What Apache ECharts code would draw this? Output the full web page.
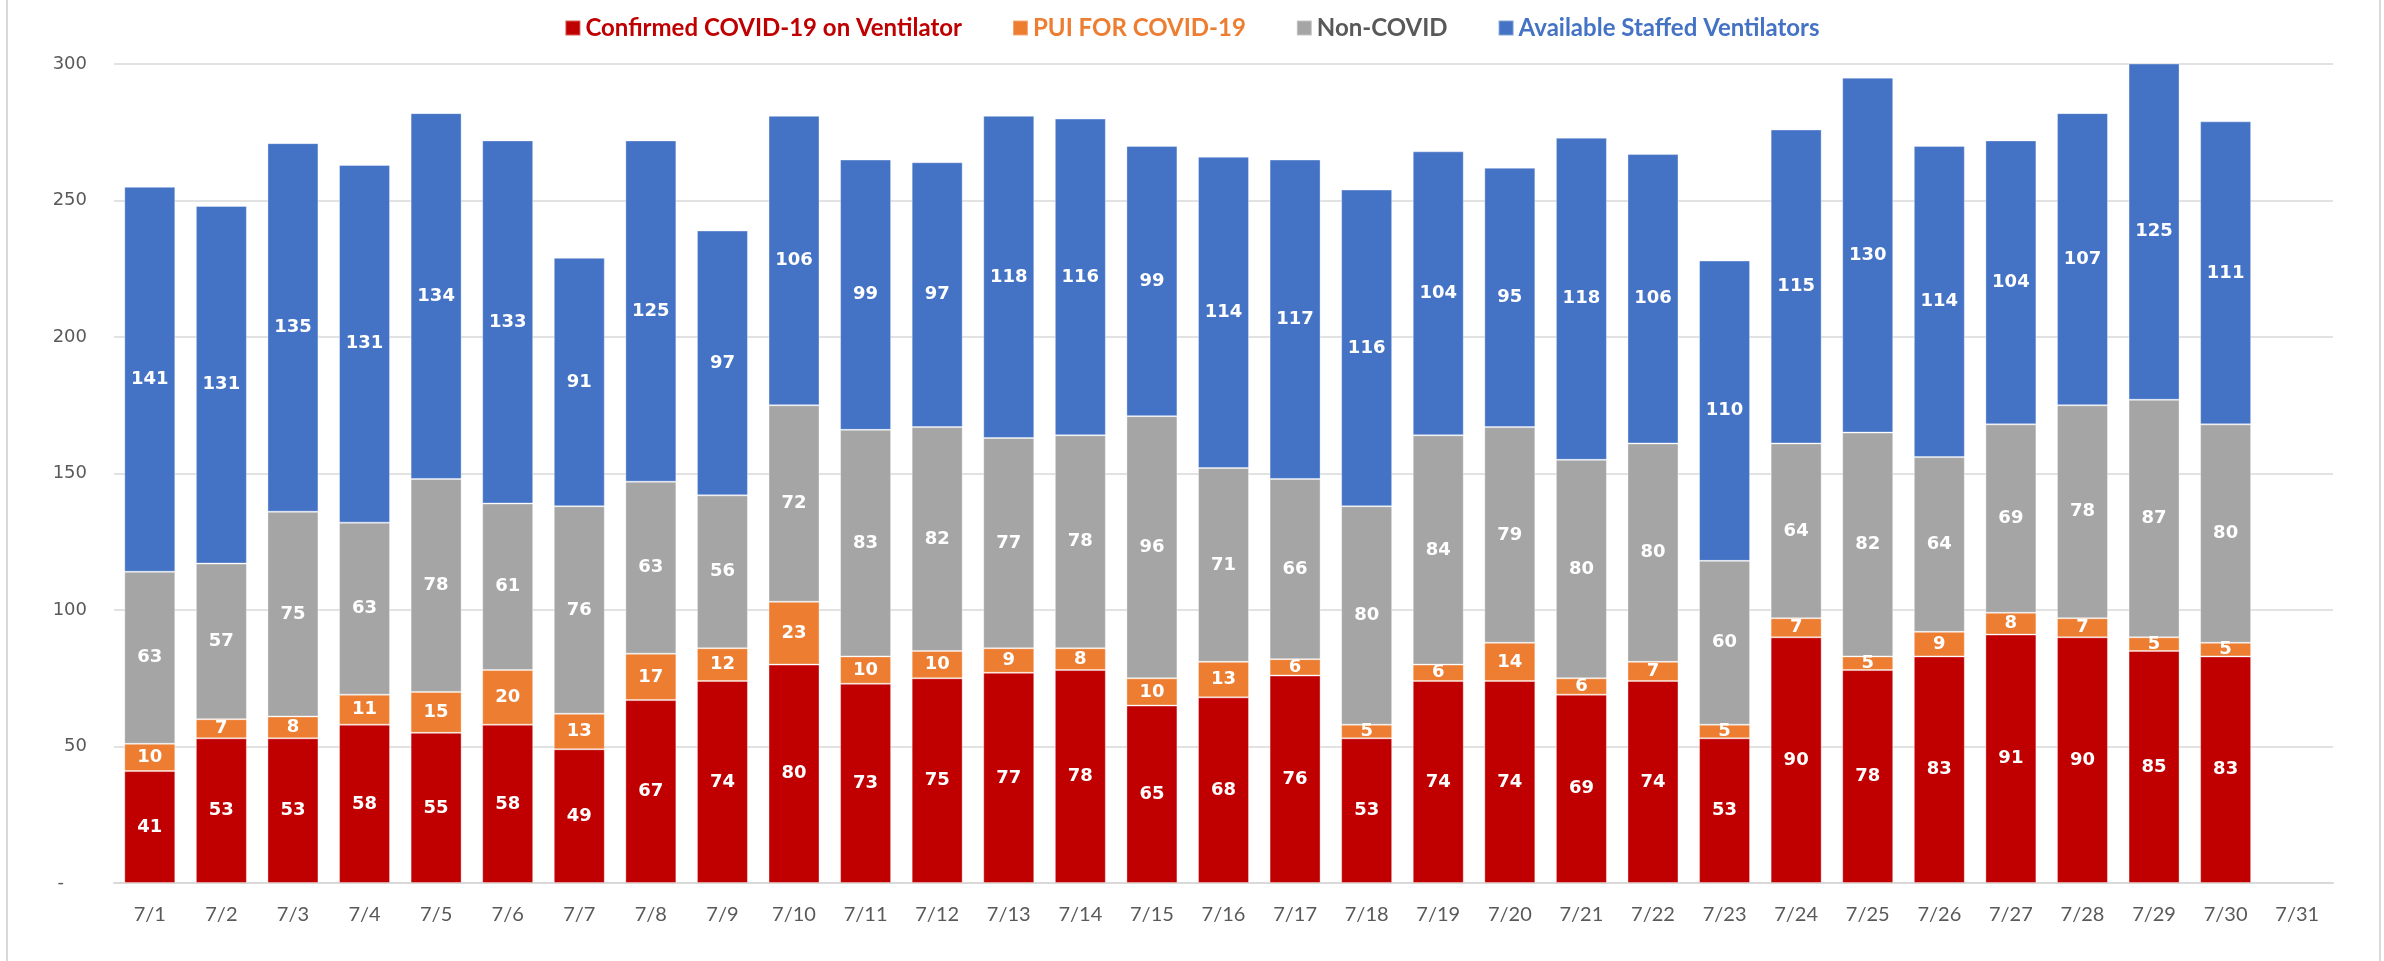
<!DOCTYPE html>
<html>
<head>
<meta charset="utf-8">
<script src="https://cdn.jsdelivr.net/npm/echarts@6/dist/echarts.min.js"></script>
<style>
html,body{margin:0;padding:0;background:#fff;}
#chart{width:2384px;height:961px;}
</style>
</head>
<body>
<div id="chart"></div>
<script>
const categories = ['7/1','7/2','7/3','7/4','7/5','7/6','7/7','7/8','7/9','7/10','7/11','7/12','7/13','7/14','7/15','7/16','7/17','7/18','7/19','7/20','7/21','7/22','7/23','7/24','7/25','7/26','7/27','7/28','7/29','7/30','7/31'];
const confirmed = [41,53,53,58,55,58,49,67,74,80,73,75,77,78,65,68,76,53,74,74,69,74,53,90,78,83,91,90,85,83,null];
const pui = [10,7,8,11,15,20,13,17,12,23,10,10,9,8,10,13,6,5,6,14,6,7,5,7,5,9,8,7,5,5,null];
const nonCovid = [63,57,75,63,78,61,76,63,56,72,83,82,77,78,96,71,66,80,84,79,80,80,60,64,82,64,69,78,87,80,null];
const available = [141,131,135,131,134,133,91,125,97,106,99,97,118,116,99,114,117,116,104,95,118,106,110,115,130,114,104,107,125,111,null];
const seriesNames = ['Confirmed COVID-19 on Ventilator','PUI FOR COVID-19','Non-COVID','Available Staffed Ventilators'];
const colors = ['#C00000','#ED7D31','#A5A5A5','#4472C4'];
const legendTextColors = ['#C00000','#ED7D31','#595959','#4472C4'];
const yTicks = {min:0, max:300, interval:50};

const chart = echarts.init(document.getElementById('chart'), null, {renderer:'canvas'});
const dataSets = [confirmed, pui, nonCovid, available];
const series = dataSets.map((d,i)=>({
  name: seriesNames[i],
  type: 'bar',
  stack: 'total',
  data: d,
  barWidth: 51,
  clip: true,
  itemStyle: {color: colors[i], borderColor: 'rgba(255,255,255,0.35)', borderWidth: 1},
  label: {
    show: true, position: 'inside', color: '#ffffff',
    fontFamily: 'DejaVu Sans', fontWeight: 'bold', fontSize: 18
  }
}));

chart.setOption({
  animation: false,
  color: colors,
  legend: {
    top: 11,
    left: 'center',
    itemWidth: 15, itemHeight: 15, itemGap: 50,
    icon: 'rect',
    data: seriesNames.map((n,i)=>({name:n, textStyle:{color: legendTextColors[i]}})),
    textStyle: {fontFamily: 'Lato', fontWeight: 'bold', fontSize: 24}
  },
  grid: {left: 114, right: 51, top: 64, bottom: 78, containLabel: false},
  xAxis: {
    type: 'category',
    data: categories,
    axisLine: {lineStyle: {color: '#D9D9D9', width: 2}},
    axisTick: {show: false},
    axisLabel: {color: '#595959', fontFamily: 'Lato', fontSize: 20, margin: 22}
  },
  yAxis: {
    type: 'value',
    min: yTicks.min, max: yTicks.max, interval: yTicks.interval,
    axisLine: {show: false},
    axisTick: {show: false},
    splitLine: {lineStyle: {color: '#D9D9D9', width: 1.5}},
    axisLabel: {
      color: '#595959', fontFamily: 'DejaVu Sans', fontSize: 18, margin: 27,
      formatter: v => v === 0 ? '-    ' : String(v)
    }
  },
  graphic: [
    {type:'line', shape:{x1:7,y1:0,x2:7,y2:961}, style:{stroke:'#D9D9D9', lineWidth:2}},
    {type:'line', shape:{x1:2380,y1:0,x2:2380,y2:961}, style:{stroke:'#D9D9D9', lineWidth:2}}
  ],
  series: series
});
</script>
</body>
</html>
